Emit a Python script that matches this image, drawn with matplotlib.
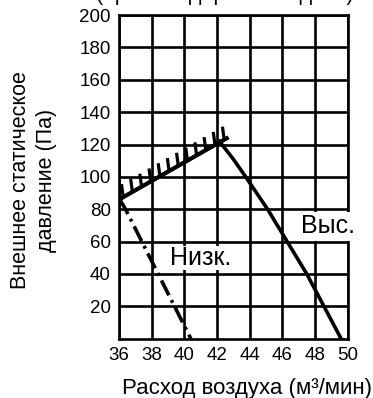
import numpy as np
import matplotlib
matplotlib.use('Agg')
import matplotlib.pyplot as plt
import matplotlib.patheffects as pe

plt.rcParams['font.family'] = ['Liberation Sans', 'DejaVu Sans']

# fan curves
limit_x = [36.0, 42.7]
limit_y = [86, 124.5]

high_x = [42.15, 43.0, 43.76, 45.1, 46.3, 47.5, 48.55, 49.6]
high_y = [122, 111, 100, 80, 60, 40, 20, 0]

low_x = [36.05, 36.4, 37.4, 38.4, 39.4, 40.4]
low_y = [86, 80, 60, 40, 20, 0]

x_ticks = [36, 38, 40, 42, 44, 46, 48, 50]
y_ticks = [20, 40, 60, 80, 100, 120, 140, 160, 180, 200]


def plot_fan_chart():
    fig = plt.figure(figsize=(3.73, 3.98), dpi=100)
    ax = fig.add_axes([0.319, 0.149, 0.613, 0.813])

    # limit line with hatch ticks on top
    ax.plot(limit_x, limit_y, color='black', lw=2.8, solid_capstyle='butt',
            path_effects=[pe.withTickedStroke(angle=68, spacing=7.0, length=1.35, linewidth=2.3),
                          pe.Normal()], zorder=4)
    ax.plot(high_x, high_y, color='black', lw=2.6, zorder=4)
    ax.plot(low_x, low_y, color='black', lw=2.6, linestyle=(0, (4.6, 1.5, 0.8, 1.5)), zorder=4)

    ax.text(48.8, 69.5, 'Выс.', fontsize=18, ha='center', va='center',
            bbox=dict(facecolor='white', edgecolor='none', pad=2), zorder=3)
    ax.text(41.0, 50, 'Низк.', fontsize=18, ha='center', va='center',
            bbox=dict(facecolor='white', edgecolor='none', pad=0), zorder=3)

    ax.set_xlim(36, 50)
    ax.set_ylim(0, 200)
    ax.set_xticks(x_ticks)
    ax.set_yticks(y_ticks)
    ax.tick_params(length=0, labelsize=13.5, pad=6)
    ax.grid(True, color='black', lw=1.9)
    ax.set_axisbelow(True)
    for s in ax.spines.values():
        s.set_linewidth(1.9)

    ax.set_xlabel('Расход воздуха (м³/мин)', fontsize=16)
    ax.xaxis.set_label_coords(0.56, -0.12)
    ax.set_ylabel('Внешнее статическое\nдавление (Па)', fontsize=15.5, linespacing=1.3,
                  multialignment='center')
    ax.yaxis.set_label_coords(-0.27, 0.49)

    # title partly cut off at the top edge, as in the source
    fig.text(0.604, 1.0, '(при стандартной подаче)', fontsize=15.5, ha='center', va='baseline')

    fig.savefig('out.png', dpi=100)


if __name__ == "__main__":
    plot_fan_chart()
